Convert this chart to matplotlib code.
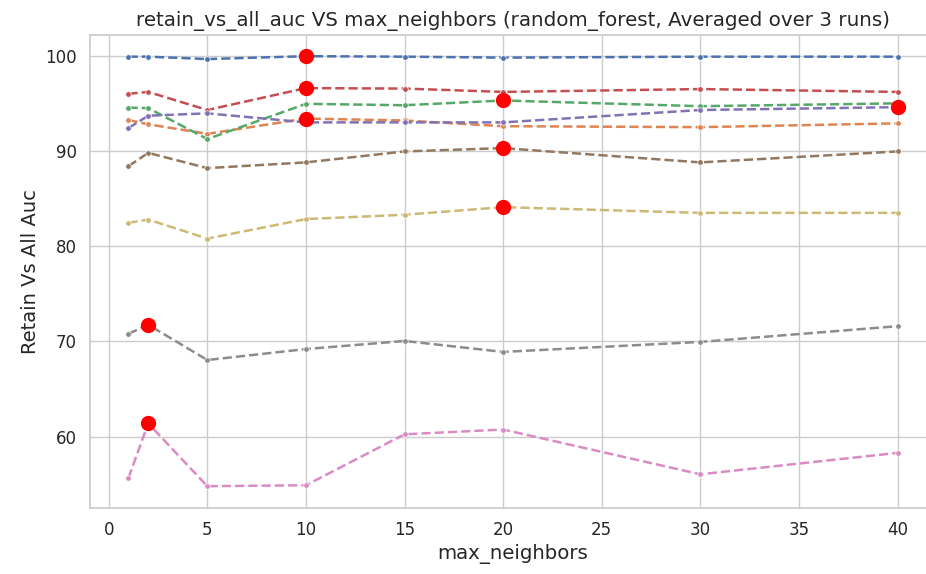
import matplotlib
matplotlib.use("Agg")
import matplotlib.pyplot as plt
import seaborn as sns
import numpy as np

sns.set_theme(style="whitegrid")
plt.rcParams['font.family'] = ['DejaVu Sans']

x_vals = [1, 2, 5, 10, 15, 20, 30, 40]

s_blue = [99.9, 99.9, 99.65, 99.95, 99.9, 99.8, 99.9, 99.9]
s_orange = [93.25, 92.8, 91.8, 93.4, 93.2, 92.6, 92.5, 92.9]
s_green = [94.55, 94.5, 91.25, 94.95, 94.8, 95.3, 94.7, 95.0]
s_red = [96.0, 96.2, 94.3, 96.6, 96.55, 96.2, 96.5, 96.2]
s_purple = [92.4, 93.7, 93.95, 93.0, 93.0, 93.0, 94.3, 94.6]
s_brown = [88.4, 89.8, 88.2, 88.8, 89.95, 90.3, 88.8, 89.95]
s_pink = [55.65, 61.4, 54.8, 54.9, 60.25, 60.75, 56.05, 58.3]
s_gray = [70.8, 71.75, 68.05, 69.2, 70.05, 68.9, 69.95, 71.6]
s_olive = [82.45, 82.8, 80.8, 82.85, 83.3, 84.1, 83.5, 83.5]

series = [s_blue, s_orange, s_green, s_red, s_purple, s_brown, s_pink, s_gray, s_olive]
palette = sns.color_palette("deep", 10)
colors = [palette[i] for i in range(9)]

title = "retain_vs_all_auc VS max_neighbors (random_forest, Averaged over 3 runs)"
xlabel = "max_neighbors"
ylabel = "Retain Vs All Auc"

fig = plt.figure(figsize=(9.26, 5.74), dpi=100)
ax = fig.add_axes([90/926, 1-507.7/574, 846/926, (507.7-34.7)/574])

for s, c in zip(series, colors):
    ax.plot(x_vals, s, linestyle='--', marker='o', markersize=4, color=c,
            markeredgecolor='white', markeredgewidth=0.5, linewidth=1.8)
    i = int(np.argmax(s))
    ax.plot(x_vals[i], s[i], 'o', color='red', markersize=10, zorder=5)

ax.set_title(title, fontsize=14.3)
ax.set_xlabel(xlabel, fontsize=14.2)
ax.set_ylabel(ylabel, fontsize=14)
ax.tick_params(labelsize=12)
ax.set_xticks([0, 5, 10, 15, 20, 25, 30, 35, 40])
ax.set_yticks([60, 70, 80, 90, 100])

fig.savefig("out.png", dpi=100)
